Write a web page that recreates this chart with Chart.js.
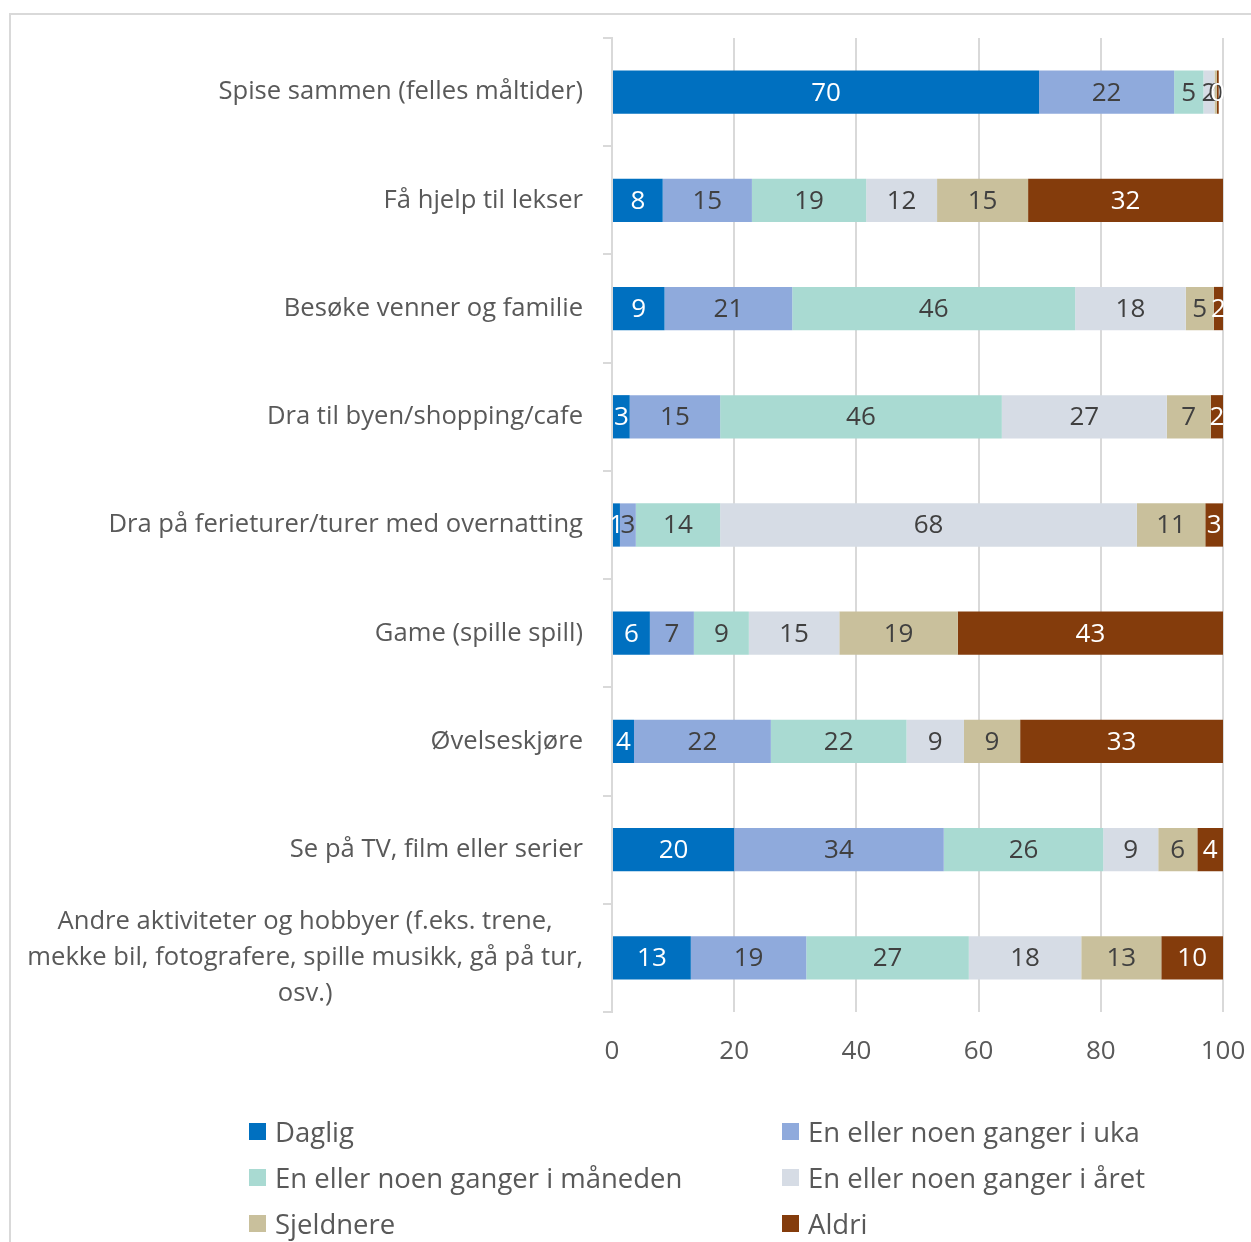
<!DOCTYPE html>
<html>
<head>
<meta charset="utf-8">
<script src="https://cdn.jsdelivr.net/npm/chart.js@4.4.1/dist/chart.umd.min.js"></script>
<style>
    body { margin: 0; background: #fff; overflow: hidden; }
    #frame { position: absolute; left: 9px; top: 13px; width: 1300px; height: 1300px; border: 2px solid #d9d9d9; box-sizing: border-box; }
    #wrap { position: absolute; left: 0; top: 0; width: 1251px; height: 1242px; }
    #legend { position: absolute; left: 249px; top: 1108px; display: grid; grid-template-columns: 533px auto; grid-auto-rows: 46px; align-items: center;
              font-family: "Open Sans", sans-serif; font-size: 27.5px; color: #595959; }
    #legend .item { display: flex; align-items: center; white-space: nowrap; }
    #legend .box { width: 17px; height: 17px; margin-right: 9px; }
</style>
</head>
<body>
<div id="frame"></div>
<div id="wrap"><canvas id="chart"></canvas></div>
<div id="legend"></div>
<script>
    const categories = [
        ["Spise sammen (felles måltider)"],
        ["Få hjelp til lekser"],
        ["Besøke venner og familie"],
        ["Dra til byen/shopping/cafe"],
        ["Dra på ferieturer/turer med overnatting"],
        ["Game (spille spill)"],
        ["Øvelseskjøre"],
        ["Se på TV, film eller serier"],
        ["Andre aktiviteter og hobbyer (f.eks. trene,", "mekke bil, fotografere, spille musikk, gå på tur,", "osv.)"]
    ];
    const seriesNames = ["Daglig", "En eller noen ganger i uka", "En eller noen ganger i måneden",
        "En eller noen ganger i året", "Sjeldnere", "Aldri"];
    // percentages (labels show them rounded)
    const daglig    = [69.9,  8.3,  8.6,  2.9,  1.3,  6.2,  3.6, 20.0, 12.9];
    const uke       = [22.1, 14.6, 20.9, 14.8,  2.6,  7.2, 22.4, 34.3, 18.9];
    const maaned    = [ 4.8, 18.7, 46.3, 46.1, 13.8,  9.0, 22.2, 26.1, 26.6];
    const aaret     = [ 1.8, 11.6, 18.1, 27.0, 68.2, 14.8,  9.4,  9.0, 18.4];
    const sjeldnere = [ 0.4, 14.9,  4.6,  7.2, 11.2, 19.4,  9.2,  6.4, 13.1];
    const aldri     = [ 0.3, 31.9,  1.5,  2.0,  2.9, 43.4, 33.2,  4.2, 10.1];
    const xTicks = [0, 20, 40, 60, 80, 100];

    const colors = ["#0070c0", "#8faadc", "#a9dad2", "#d6dce5", "#c9c09c", "#843c0c"];
    const labelColors = ["#ffffff", "#404040", "#404040", "#404040", "#404040", "#ffffff"];
    const values = [daglig, uke, maaned, aaret, sjeldnere, aldri];

    const segmentLabels = {
        id: "segmentLabels",
        afterDatasetsDraw(chart) {
            let ctx = chart.ctx;
            let area = chart.chartArea;
            ctx.save();
            ctx.beginPath();
            ctx.rect(area.left, area.top, area.right - area.left + 1, area.bottom - area.top);
            ctx.clip();
            ctx.font = '26px "Open Sans"';
            ctx.textAlign = "center";
            ctx.textBaseline = "middle";
            chart.data.datasets.forEach((ds, i) => {
                chart.getDatasetMeta(i).data.forEach((bar, j) => {
                    ctx.fillStyle = labelColors[i];
                    ctx.fillText(String(Math.round(ds.data[j])), (bar.x + bar.base) / 2, bar.y + 1);
                });
            });
            ctx.restore();
        }
    };

    // category labels: block right-aligned, lines centred inside it (like Excel)
    const categoryLabels = {
        id: "categoryLabels",
        afterDraw(chart) {
            let ctx = chart.ctx;
            let yScale = chart.scales.y;
            ctx.save();
            ctx.font = '25.6px "Open Sans"';
            ctx.fillStyle = "#595959";
            ctx.textAlign = "center";
            ctx.textBaseline = "middle";
            categories.forEach((lines, i) => {
                let cy = yScale.getPixelForTick(i);
                let w = Math.max(...lines.map(l => ctx.measureText(l).width));
                let right = yScale.right - 29;
                lines.forEach((line, k) => {
                    ctx.fillText(line, right - w / 2, cy + (k - (lines.length - 1) / 2) * 36);
                });
            });
            ctx.restore();
        }
    };

    let chart = new Chart(document.getElementById("chart"), {
        type: "bar",
        data: {
            labels: categories,
            datasets: values.map((data, i) => ({
                label: seriesNames[i],
                data: data,
                backgroundColor: colors[i],
                borderWidth: 0,
                barPercentage: 0.8,
                categoryPercentage: 0.5
            }))
        },
        options: {
            indexAxis: "y",
            responsive: true,
            maintainAspectRatio: false,
            animation: false,
            layout: { padding: { top: 38, right: 28, left: 0, bottom: 0 } },
            plugins: {
                legend: { display: false },
                tooltip: { enabled: false }
            },
            scales: {
                x: {
                    stacked: true,
                    min: 0,
                    max: 100,
                    afterBuildTicks: (scale) => { scale.ticks = xTicks.map(v => ({ value: v })); },
                    afterFit: (scale) => {
                        scale.height = 230;
                        scale.paddingLeft = 0;
                        scale.paddingRight = 0;
                    },
                    border: { display: false },
                    grid: { color: "#d9d9d9", lineWidth: 2, drawTicks: false },
                    ticks: { color: "#595959", font: { family: "Open Sans", size: 26 }, padding: 24 }
                },
                y: {
                    stacked: true,
                    afterFit: (scale) => { scale.width = 612; },
                    border: { display: true, color: "#d9d9d9", width: 2 },
                    grid: { offset: true, drawOnChartArea: false, drawTicks: true, tickLength: 9, color: "#d9d9d9", lineWidth: 2 },
                    ticks: { display: false }
                }
            }
        },
        plugins: [segmentLabels, categoryLabels]
    });

    let legend = document.getElementById("legend");
    chart.data.datasets.forEach((ds) => {
        let item = document.createElement("div");
        item.className = "item";
        let box = document.createElement("span");
        box.className = "box";
        box.style.background = ds.backgroundColor;
        let text = document.createElement("span");
        text.textContent = ds.label;
        item.appendChild(box);
        item.appendChild(text);
        legend.appendChild(item);
    });
</script>
</body>
</html>
